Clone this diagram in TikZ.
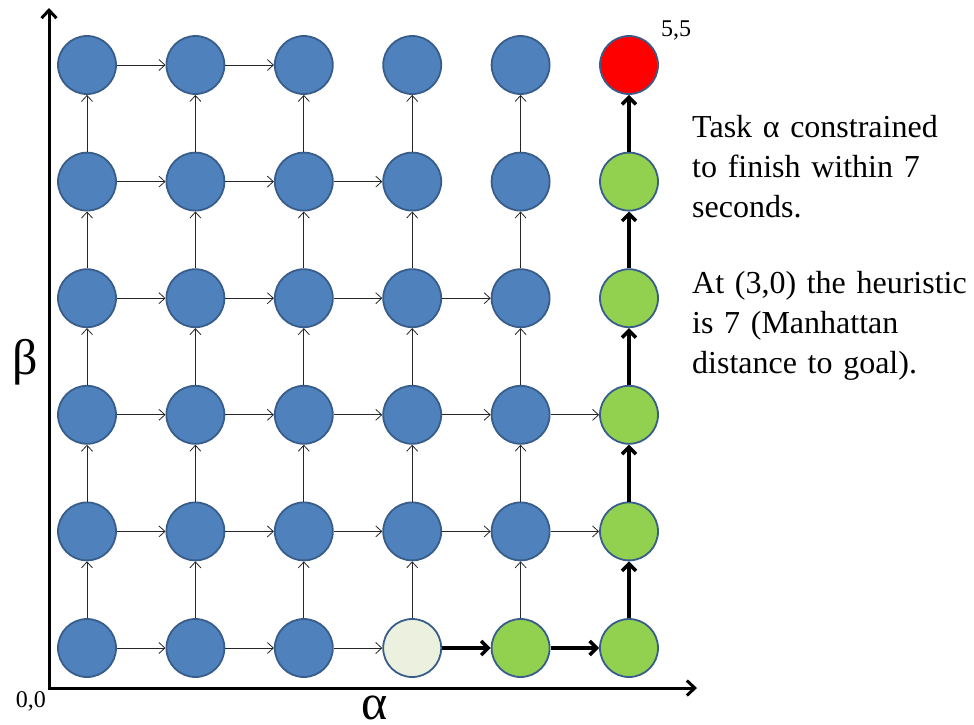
\documentclass[tikz,border=0pt]{standalone}
\usepackage{fontspec}
\setmainfont{Liberation Serif}
\usetikzlibrary{arrows.meta}
\definecolor{nodeblue}{HTML}{4F81BD}
\definecolor{nodeedge}{HTML}{385D8A}
\definecolor{nodegreen}{HTML}{92D050}
\definecolor{nodelight}{HTML}{EBF1DE}
\begin{document}
\begin{tikzpicture}[x=1pt,y=-1pt,
  state/.style={circle,draw=nodeedge,line width=1.8pt,fill=nodeblue,minimum size=58pt,inner sep=0pt},
  kind30/.style={fill=nodelight},
  kind40/.style={fill=nodegreen},
  kind50/.style={fill=nodegreen},
  kind51/.style={fill=nodegreen},
  kind52/.style={fill=nodegreen},
  kind53/.style={fill=nodegreen},
  kind54/.style={fill=nodegreen},
  kind55/.style={fill=red},
  thinedge/.style={draw=black!85,line width=0.8pt,-{Straight Barb[length=6pt,width=11pt]}},
  thickedge/.style={draw=black,line width=3.5pt,-{Straight Barb[length=7pt,width=14pt]}},
  axisline/.style={draw=black,line width=3pt,{Straight Barb[length=8pt,width=15pt]}-{Straight Barb[length=8pt,width=15pt]}},
  smalllabel/.style={font=\fontsize{24}{26}\selectfont,inner sep=0pt},
  greeklabel/.style={font=\fontsize{50}{54}\selectfont,inner sep=0pt},
  note/.style={font=\fontsize{32}{40}\selectfont,text width=300pt,align=left,anchor=base west,inner sep=0pt}
]
\useasboundingbox (0,0) rectangle (974,724);

% nodes
\foreach \c in {0,...,5}{
  \foreach \r in {0,...,5}{
    \node[state,kind\c\r/.try] (n\c\r) at ({87+108.4*\c},{648-116.6*\r}) {};
  }
}

% horizontal edges
\foreach \r/\n in {5/1,4/2,3/3,2/4,1/4,0/2}{
  \foreach \c in {0,...,\n}{
    \pgfmathtruncatemacro{\d}{\c+1}
    \draw[thinedge] (n\c\r) -- (n\d\r);
  }
}
\draw[thickedge] (n30) -- (n40);
\draw[thickedge] (n40) -- (n50);

% vertical edges
\foreach \r in {0,...,4}{
  \pgfmathtruncatemacro{\s}{\r+1}
  \foreach \c in {0,...,4}{
    \draw[thinedge] (n\c\r) -- (n\c\s);
  }
  \draw[thickedge] (n5\r) -- (n5\s);
}

% axes
\coordinate (origin) at (49,688);
\coordinate (ytip) at (49,8);
\coordinate (xtip) at (697,688);
\draw[axisline] (ytip) -- (origin) -- (xtip);

% labels
\node[smalllabel] (zerolabel) at (31,701) {0,0};
\node[smalllabel] (fivelabel) at (676,30) {5,5};
\node[greeklabel] (betalabel) at (25,362) {β};
\node[greeklabel] (alphalabel) at (375,708) {α};

\node[note] (note1) at (692,137) {Task α constrained\\to finish within 7\\seconds.};
\node[note] (note2) at (692,293) {At (3,0) the heuristic\\is 7 (Manhattan\\distance to goal).};
\end{tikzpicture}
\end{document}
